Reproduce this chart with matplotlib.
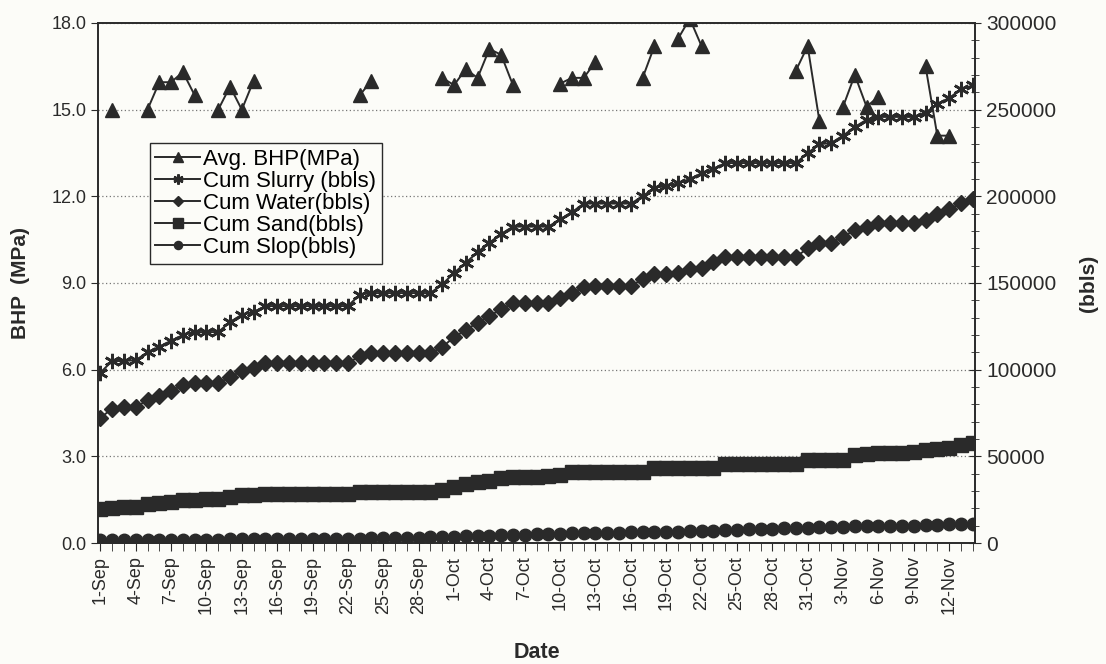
import numpy as np
import pandas as pd
import matplotlib
matplotlib.use("Agg")
import matplotlib.pyplot as plt
from matplotlib.ticker import MultipleLocator, FormatStrFormatter

plt.rcParams['font.family'] = ['Liberation Sans', 'DejaVu Sans']

dates = pd.date_range("2003-09-01", "2003-11-14", freq="D")
nan = np.nan

# left axis (MPa)
avg_bhp = [nan, 15.0, nan, nan, 15.0, 15.95, 15.95, 16.3, 15.5, nan,
           15.0, 15.8, 15.0, 16.0, nan, nan, nan, nan, nan, nan,
           nan, nan, 15.5, 16.0, nan, nan, nan, nan, nan, 16.1,
           15.85, 16.4, 16.1, 17.1, 16.9, 15.85, nan, nan, nan, 15.9,
           16.1, 16.1, 16.65, nan, nan, nan, 16.1, 17.2, nan, 17.45,
           18.15, 17.2, nan, nan, nan, nan, nan, nan, nan, 16.35,
           17.2, 14.6, nan, 15.1, 16.2, 15.1, 15.45, nan, nan, nan,
           16.5, 14.1, 14.1, nan, nan]

# right axis (bbls)
cum_slurry = [98300, 105000, 105000, 105500, 110000, 113300, 116700, 120000, 121700, 121700,
              121700, 127500, 131700, 133300, 136700, 136700, 136700, 136700, 136700, 136700,
              136700, 136700, 143300, 144200, 144200, 144200, 144200, 144200, 144200, 149200,
              155800, 161700, 167800, 173300, 178300, 182500, 182500, 182500, 182500, 186700,
              190800, 195800, 195800, 195800, 195800, 195800, 200000, 205000, 205800, 207500,
              210000, 213300, 215800, 219200, 219200, 219200, 219200, 219200, 219200, 219200,
              225000, 230000, 230800, 235000, 240000, 244200, 245800, 245800, 245800, 245800,
              248300, 253300, 256700, 261700, 264000]

cum_water = [72200, 77500, 78300, 78300, 82500, 85000, 87700, 91200, 92200, 92200,
             92200, 95800, 99200, 100800, 103800, 103800, 103800, 103800, 103800, 103800,
             103800, 103800, 107800, 109500, 109500, 109500, 109500, 109500, 109500, 113000,
             118800, 122800, 127200, 130800, 135000, 138300, 138300, 138300, 138300, 141300,
             144200, 147500, 148300, 148300, 148300, 148300, 152200, 155000, 155000, 155700,
             158000, 158700, 162000, 165000, 165000, 165000, 165000, 165000, 165000, 165000,
             170000, 173300, 173300, 176700, 180500, 182200, 184500, 184500, 184500, 184500,
             186300, 190000, 192500, 196000, 198300]

cum_sand = [19700, 20300, 20700, 21000, 22500, 23000, 23700, 24700, 25000, 25300,
            25500, 26700, 27500, 27800, 28300, 28300, 28300, 28300, 28300, 28300,
            28300, 28300, 29700, 29700, 29700, 29700, 29700, 29700, 29700, 30800,
            32500, 34200, 35000, 35800, 37500, 38300, 38300, 38300, 38700, 39200,
            40800, 40800, 40800, 40800, 40800, 40800, 40800, 43300, 43300, 43300,
            43300, 43300, 43300, 45800, 45800, 45800, 45800, 45800, 45800, 45800,
            48000, 48000, 48000, 48000, 50800, 51300, 51700, 51700, 52000, 52500,
            53700, 54200, 55000, 56700, 57500]

cum_slop = [1500, 1550, 1600, 1650, 1700, 1750, 1800, 1850, 1900, 1950,
            2000, 2050, 2100, 2150, 2200, 2250, 2300, 2350, 2400, 2450,
            2500, 2550, 2600, 2650, 2700, 2750, 2800, 3000, 3200, 3400,
            3600, 3800, 4000, 4300, 4500, 4700, 4900, 5100, 5300, 5450,
            5600, 5700, 5800, 5900, 6000, 6100, 6200, 6300, 6450, 6600,
            6800, 7000, 7200, 7400, 7600, 7800, 8000, 8200, 8400, 8600,
            8800, 9000, 9200, 9400, 9600, 9700, 9800, 9900, 10000, 10100,
            10300, 10500, 10700, 10900, 11100]

x = np.arange(len(dates))
ink = '#2a2a2a'
bg = '#fcfcf8'

fig = plt.figure(figsize=(11.06, 6.64), dpi=100, facecolor=bg)
ax = fig.add_axes([0.0886, 0.1822, 0.793, 0.7832])
ax.set_facecolor(bg)
ax2 = ax.twinx()

l1, = ax.plot(x, avg_bhp, color=ink, lw=1.4, marker='^', ms=10.5, mfc=ink, mec=ink)
l2, = ax2.plot(x, cum_slurry, color=ink, lw=1.4, marker=(6, 2, 0), ms=11, mew=1.9, mec=ink)
l3, = ax2.plot(x, cum_water, color=ink, lw=1.4, marker='D', ms=8, mfc=ink, mec=ink)
l4, = ax2.plot(x, cum_sand, color=ink, lw=1.4, marker='s', ms=10, mfc=ink, mec=ink)
l5, = ax2.plot(x, cum_slop, color=ink, lw=1.4, marker='o', ms=9, mfc=ink, mec=ink)

ax.set_xlim(-0.2, 74.2)
ax.set_ylim(0, 18)
ax2.set_ylim(0, 300000)

ax.yaxis.set_major_locator(MultipleLocator(3))
ax.yaxis.set_major_formatter(FormatStrFormatter('%.1f'))
ax2.yaxis.set_major_locator(MultipleLocator(50000))
ax2.yaxis.set_minor_locator(MultipleLocator(10000))

ax.set_xticks(x[::3])
ax.set_xticklabels([f"{d.day}-{d.strftime('%b')}" for d in dates[::3]], rotation=90)
ax.set_xticks(x, minor=True)

ax.tick_params(axis='x', which='both', direction='out', length=6, colors=ink, labelsize=13)
ax.tick_params(axis='y', direction='out', length=5, colors=ink, labelsize=13)
ax2.tick_params(axis='y', which='major', direction='inout', length=9, colors=ink, labelsize=15)
ax2.tick_params(axis='y', which='minor', direction='inout', length=6, colors=ink)

ax.yaxis.grid(True, linestyle=(0, (1, 2)), color='#777777', lw=0.9)
ax.set_axisbelow(True)

for a in (ax, ax2):
    for s in a.spines.values():
        s.set_color(ink)
        s.set_linewidth(1.2)

ax.set_ylabel('BHP  (MPa)', fontsize=15, fontweight='bold', color=ink, labelpad=15)
ax2.set_ylabel('(bbls)', fontsize=15, fontweight='bold', color=ink, rotation=90, labelpad=16)
ax.set_xlabel('Date', fontsize=15.5, fontweight='bold', color=ink, labelpad=20)

leg = ax2.legend([l1, l2, l3, l4, l5],
                 ['Avg. BHP(MPa)', 'Cum Slurry (bbls)', 'Cum Water(bbls)',
                  'Cum Sand(bbls)', 'Cum Slop(bbls)'],
                 loc='upper left', bbox_to_anchor=(0.059, 0.769), fontsize=16,
                 frameon=True, fancybox=False, framealpha=1, edgecolor=ink,
                 handlelength=2.0, handletextpad=0.15, labelspacing=0.05,
                 borderpad=0.25, borderaxespad=0, markerscale=0.65)
leg.get_frame().set_facecolor(bg)
leg.get_frame().set_linewidth(1.0)

fig.savefig('out.png', dpi=100, facecolor=bg)
